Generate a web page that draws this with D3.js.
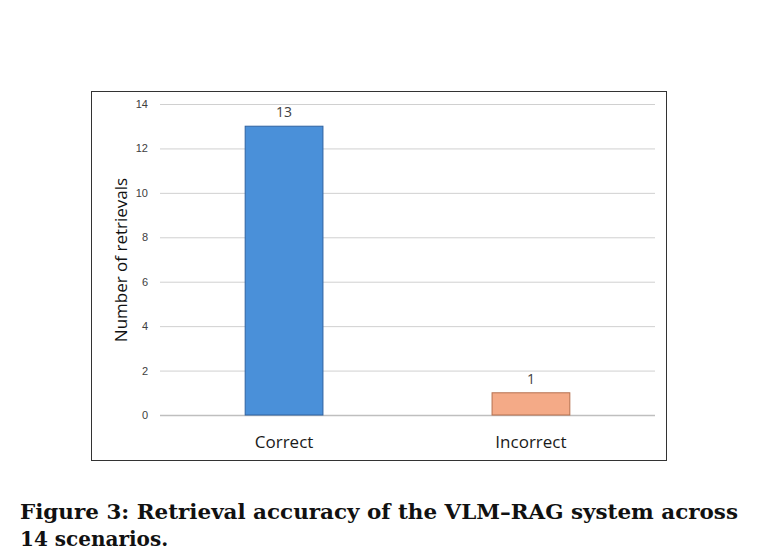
<!DOCTYPE html>
<html>
<head>
<meta charset="utf-8">
<script src="https://cdn.jsdelivr.net/npm/d3@7"></script>
<style>
  body { margin: 0; background: #fff; }
</style>
</head>
<body>
<svg id="chart"></svg>
<script>
// chart data
let categories = ["Correct", "Incorrect"];
let counts = [13, 1];
let barColors = ["#4a90d9", "#f4aa87"];
let barStrokes = ["#2f62a0", "#b5704e"];
let yTicks = [0, 2, 4, 6, 8, 10, 12, 14];
let captionLines = [
    "Figure 3: Retrieval accuracy of the VLM\u2013RAG system across",
    "14 scenarios."
];

let width = 758;
let height = 552;

let svg = d3.select("#chart")
    .attr("width", width)
    .attr("height", height);

// outer frame of the embedded chart image
svg.append("rect")
    .attr("x", 91.5).attr("y", 91.5)
    .attr("width", 575).attr("height", 369)
    .attr("fill", "white")
    .attr("stroke", "#333")
    .attr("stroke-width", 1);

// plot area
let plotLeft = 160, plotRight = 655;
let plotTop = 104, plotBottom = 415;

let x = d3.scaleBand()
    .domain(categories)
    .range([plotLeft, plotRight])
    .paddingInner(0.685)
    .paddingOuter(0.345);

let y = d3.scaleLinear()
    .domain([0, 14])
    .range([plotBottom, plotTop]);

// gridlines
svg.append("g")
    .selectAll("line")
    .data(yTicks)
    .enter().append("line")
        .attr("x1", plotLeft)
        .attr("x2", plotRight)
        .attr("y1", d => y(d) + 0.5)
        .attr("y2", d => y(d) + 0.5)
        .attr("stroke", d => d === 0 ? "#bfbfbf" : "#d0d0d0")
        .attr("stroke-width", d => d === 0 ? 1.5 : 1);

// y axis tick labels (no domain line)
let yAxis = d3.axisLeft(y)
    .tickValues(yTicks)
    .tickSize(0)
    .tickPadding(12);

let yAxisG = svg.append("g")
    .attr("transform", "translate(" + plotLeft + ",0)")
    .call(yAxis);
yAxisG.select(".domain").remove();
yAxisG.selectAll("text")
    .attr("font-family", "Liberation Sans, Arial, sans-serif")
    .attr("font-size", 11)
    .attr("fill", "#404040");

// bars
svg.append("g")
    .selectAll("rect")
    .data(counts)
    .enter().append("rect")
        .attr("x", (d, i) => x(categories[i]))
        .attr("y", d => y(d))
        .attr("width", x.bandwidth())
        .attr("height", d => y(0) - y(d))
        .attr("fill", (d, i) => barColors[i])
        .attr("stroke", (d, i) => barStrokes[i])
        .attr("stroke-width", 1);

// value labels
svg.append("g")
    .selectAll("text")
    .data(counts)
    .enter().append("text")
        .attr("x", (d, i) => x(categories[i]) + x.bandwidth() / 2)
        .attr("y", d => y(d) - 9)
        .attr("text-anchor", "middle")
        .attr("font-family", "Open Sans, Liberation Sans, sans-serif")
        .attr("font-size", 14)
        .attr("fill", "#404040")
        .text(d => d);

// category labels
let xAxis = d3.axisBottom(x).tickSize(0).tickPadding(21);
let xAxisG = svg.append("g")
    .attr("transform", "translate(0," + plotBottom + ")")
    .call(xAxis);
xAxisG.select(".domain").remove();
xAxisG.selectAll("text")
    .attr("dy", 0)
    .attr("y", 33)
    .attr("font-family", "Open Sans, Liberation Sans, sans-serif")
    .attr("font-size", 17)
    .attr("fill", "#1a1a1a");

// y axis title
svg.append("text")
    .attr("transform", "translate(127,260) rotate(-90)")
    .attr("text-anchor", "middle")
    .attr("font-family", "Open Sans, Liberation Sans, sans-serif")
    .attr("font-size", 17)
    .attr("fill", "#111")
    .text("Number of retrievals");

// caption
svg.append("g")
    .selectAll("text")
    .data(captionLines)
    .enter().append("text")
        .attr("x", 20)
        .attr("y", (d, i) => 519 + i * 27)
        .attr("font-family", "DejaVu Serif, serif")
        .attr("font-weight", "bold")
        .attr("font-size", 20)
        .attr("fill", "#111")
        .attr("textLength", (d, i) => i === 0 ? 718 : null)
        .attr("lengthAdjust", "spacingAndGlyphs")
        .text(d => d);
</script>
</body>
</html>
